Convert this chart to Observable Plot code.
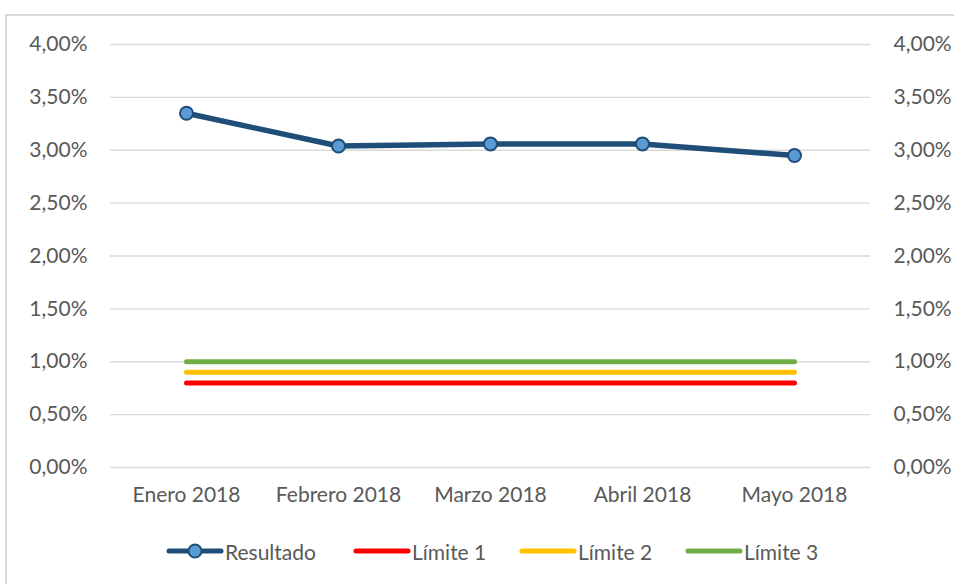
<!DOCTYPE html>
<html>
<head>
<meta charset="utf-8">
<script src="https://cdn.jsdelivr.net/npm/d3@7"></script>
<script src="https://cdn.jsdelivr.net/npm/@observablehq/plot@0.6"></script>
<style>
  html, body { margin: 0; padding: 0; background: #fff; }
  body { width: 954px; height: 584px; position: relative; overflow: hidden; font-family: Lato, sans-serif; }
  #frame { position: absolute; left: 5px; top: 14px; width: 1000px; height: 700px; border-left: 2px solid #d9d9d9; border-top: 2px solid #d9d9d9; box-sizing: border-box; }
  #chart { position: absolute; left: 0; top: 0; }
  #legend { position: absolute; top: 538px; left: 0; width: 954px; height: 26px; font-size: 21px; color: #595959; }
  .item { position: absolute; top: 0; display: flex; align-items: center; height: 26px; }
  .item svg { display: block; }
</style>
</head>
<body>
<div id="frame"></div>
<div id="chart"></div>
<div id="legend"></div>
<script>
const months = ["Enero 2018", "Febrero 2018", "Marzo 2018", "Abril 2018", "Mayo 2018"];
const resultado = [0.0335, 0.0304, 0.0306, 0.0306, 0.0295];
const limite1 = [0.008, 0.008, 0.008, 0.008, 0.008];
const limite2 = [0.009, 0.009, 0.009, 0.009, 0.009];
const limite3 = [0.010, 0.010, 0.010, 0.010, 0.010];
const yTicks = [0, 0.005, 0.01, 0.015, 0.02, 0.025, 0.03, 0.035, 0.04];
const seriesNames = ["Resultado", "Límite 1", "Límite 2", "Límite 3"];
const seriesColors = ["#1f4e79", "#ff0000", "#ffc000", "#70ad47"];

const loc = d3.formatLocale({decimal: ",", thousands: ".", grouping: [3], currency: ["", "€"]});
const fmt = loc.format(".2%");

const rows = (vals, name) => months.map((m, i) => ({month: m, value: vals[i], series: name}));
const resRows = rows(resultado, "Resultado");
const limRows = [...rows(limite1, "Límite 1"), ...rows(limite2, "Límite 2"), ...rows(limite3, "Límite 3")];

const textColor = "#595959";
const chart = Plot.plot({
  width: 954,
  height: 520,
  marginLeft: 110,
  marginRight: 84,
  marginTop: 44,
  marginBottom: 53,
  style: {fontFamily: "Lato, sans-serif", fontSize: "21px", color: textColor, background: "transparent", overflow: "visible"},
  x: {type: "point", domain: months, padding: 0.5, label: null},
  y: {domain: [0, 0.04], label: null},
  color: {domain: seriesNames, range: seriesColors},
  marks: [
    Plot.gridY(yTicks, {stroke: "#d9d9d9", strokeOpacity: 1, strokeWidth: 1.3}),
    Plot.axisY(yTicks, {anchor: "left", tickSize: 0, tickPadding: 23, tickFormat: fmt, fill: textColor, label: null}),
    Plot.axisY(yTicks, {anchor: "right", tickSize: 0, tickPadding: 23, tickFormat: fmt, fill: textColor, label: null}),
    Plot.axisX({tickSize: 0, tickPadding: 20, fill: textColor, label: null}),
    Plot.line(limRows, {x: "month", y: "value", z: "series", stroke: "series", strokeWidth: 5, strokeLinecap: "round"}),
    Plot.line(resRows, {x: "month", y: "value", stroke: "series", strokeWidth: 5.5, strokeLinejoin: "round"}),
    Plot.dot(resRows, {x: "month", y: "value", r: 6.5, fill: "#5b9bd5", stroke: "#1f4e79", strokeWidth: 2})
  ]
});
document.getElementById("chart").appendChild(chart);

// Legend
const legend = document.getElementById("legend");
const starts = [165, 352, 518, 684];
seriesNames.forEach((name, i) => {
  const item = document.createElement("div");
  item.className = "item";
  item.style.left = starts[i] + "px";
  const ns = "http://www.w3.org/2000/svg";
  const sw = document.createElementNS(ns, "svg");
  sw.setAttribute("width", 60);
  sw.setAttribute("height", 26);
  const ln = document.createElementNS(ns, "line");
  ln.setAttribute("x1", 4); ln.setAttribute("x2", 56);
  ln.setAttribute("y1", 13); ln.setAttribute("y2", 13);
  ln.setAttribute("stroke", seriesColors[i]);
  ln.setAttribute("stroke-width", 5);
  ln.setAttribute("stroke-linecap", "round");
  sw.appendChild(ln);
  if (i === 0) {
    const c = document.createElementNS(ns, "circle");
    c.setAttribute("cx", 30); c.setAttribute("cy", 13); c.setAttribute("r", 6.5);
    c.setAttribute("fill", "#5b9bd5"); c.setAttribute("stroke", "#1f4e79"); c.setAttribute("stroke-width", 2);
    sw.appendChild(c);
  }
  item.appendChild(sw);
  const t = document.createElement("span");
  t.textContent = name;
  item.appendChild(t);
  legend.appendChild(item);
});
</script>
</body>
</html>
